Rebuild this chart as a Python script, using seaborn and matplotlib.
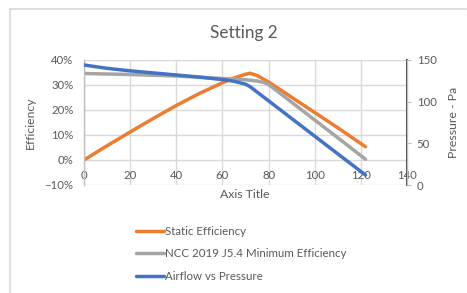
"""
Setting 2 fan curve: static efficiency and NCC minimum efficiency on the
left axis, airflow vs pressure on the secondary axis.
Saves out.png
"""
import matplotlib
matplotlib.use("Agg")
import matplotlib.pyplot as plt
import seaborn as sns
import pandas as pd
from matplotlib.lines import Line2D
from matplotlib.ticker import PercentFormatter

# values
static_x = [0, 10, 20, 30, 40, 50, 60, 65, 70, 72, 75, 80, 90, 100, 110, 122]
static_eff = [0, 5.7, 11.2, 16.6, 21.8, 26.6, 30.9, 32.8, 34.3, 34.7, 33.8, 31.2,
              25.1, 19.0, 12.9, 5.3]

ncc_x = [0, 20, 40, 60, 70, 75, 78, 80, 90, 100, 110, 122]
ncc_eff = [34.6, 34.2, 33.6, 32.6, 32.1, 31.6, 31.0, 30.2, 23.1, 16.0, 8.9, 0.3]

air_x = [0, 5, 10, 20, 30, 40, 50, 60, 65, 70, 72, 75, 80, 90, 100, 110, 122]
air_pa = [144, 142, 140, 137, 134.5, 132, 129.5, 126.5, 124.5, 121, 118, 111.6,
          101, 79.8, 58.6, 37.4, 12]

x_ticks = [0, 20, 40, 60, 80, 100, 120, 140]
eff_ticks = [-10, 0, 10, 20, 30, 40]
pa_ticks = [0, 50, 100, 150]

labels = ["Static Efficiency", "NCC 2019 J5.4 Minimum Efficiency", "Airflow vs Pressure"]
colors = ["#ED7D31", "#A5A5A5", "#4472C4"]

static_df = pd.DataFrame({"x": static_x, "y": static_eff})
ncc_df = pd.DataFrame({"x": ncc_x, "y": ncc_eff})
air_df = pd.DataFrame({"x": air_x, "y": air_pa})

sns.set_theme(style="white")
plt.rcParams["font.family"] = ["Lato", "DejaVu Sans"]
txt = "#595959"
grid = "#D9D9D9"

fig = plt.figure(figsize=(4.67, 2.93), dpi=100)
ax = fig.add_axes([84 / 467, 1 - 185 / 293, 323 / 467, 125 / 293])
ax2 = ax.twinx()

lw = 2.5
sns.lineplot(data=static_df, x="x", y="y", ax=ax, color=colors[0], lw=lw,
             sort=False, estimator=None)
sns.lineplot(data=ncc_df, x="x", y="y", ax=ax, color=colors[1], lw=lw,
             sort=False, estimator=None)
sns.lineplot(data=air_df, x="x", y="y", ax=ax2, color=colors[2], lw=lw,
             sort=False, estimator=None)

ax.set_xlim(0, 140)
ax.set_ylim(-10, 40)
ax2.set_ylim(0, 150)
ax.set_xticks(x_ticks)
ax.set_yticks(eff_ticks)
ax2.set_yticks(pa_ticks)
ax.yaxis.set_major_formatter(PercentFormatter(decimals=0))

ax.grid(True, color=grid, lw=1.0)
ax.set_axisbelow(True)
for a in (ax, ax2):
    a.spines["top"].set_visible(False)
    a.spines["bottom"].set_visible(False)
ax.spines["left"].set_color("#BFBFBF")
ax.spines["left"].set_linewidth(1.0)
ax2.spines["left"].set_visible(False)
ax2.spines["right"].set_color("#BFBFBF")
ax2.spines["right"].set_linewidth(1.0)
ax.spines["bottom"].set_position(("data", 0))

ax.tick_params(axis="x", length=0, pad=7, labelsize=8.2, labelcolor=txt)
ax.tick_params(axis="y", length=0, pad=7.5, labelsize=8.2, labelcolor=txt)
ax2.tick_params(axis="y", length=3, width=0.8, color="#BFBFBF", pad=4,
                labelsize=8.2, labelcolor=txt)

ax.set_xlabel("")
ax.set_ylabel("Efficiency", fontsize=8.8, color=txt)
ax.yaxis.set_label_coords(-0.149, 0.5)
ax2.set_ylabel("Pressure - Pa", fontsize=8.8, color=txt, rotation=90)
ax2.yaxis.set_label_coords(1.127, 0.5)
ax.text(0.498, -0.08, "Axis Title", transform=ax.transAxes, ha="center",
        va="center", fontsize=8.8, color=txt)

fig.text(244 / 467, 1 - 33 / 293, "Setting 2", ha="center", va="center",
         fontsize=12.3, color=txt)

handles = [Line2D([0], [0], color=c, lw=lw) for c in colors]
fig.legend(handles, labels, loc="upper left",
           bbox_to_anchor=(136 / 467, 1 - 226 / 293), frameon=False,
           fontsize=8.3, labelcolor=txt, handlelength=2.4, handletextpad=0.15,
           labelspacing=0.98, borderpad=0, borderaxespad=0)

# chart frame (top and left edges visible in the reference)
fig.add_artist(Line2D([10 / 467, 466 / 467], [1 - 9 / 293, 1 - 9 / 293],
                      transform=fig.transFigure, color=grid, lw=1.2))
fig.add_artist(Line2D([10 / 467, 10 / 467], [1 - 9 / 293, 0],
                      transform=fig.transFigure, color=grid, lw=1.2))

fig.savefig("out.png", dpi=100)
plt.close(fig)
